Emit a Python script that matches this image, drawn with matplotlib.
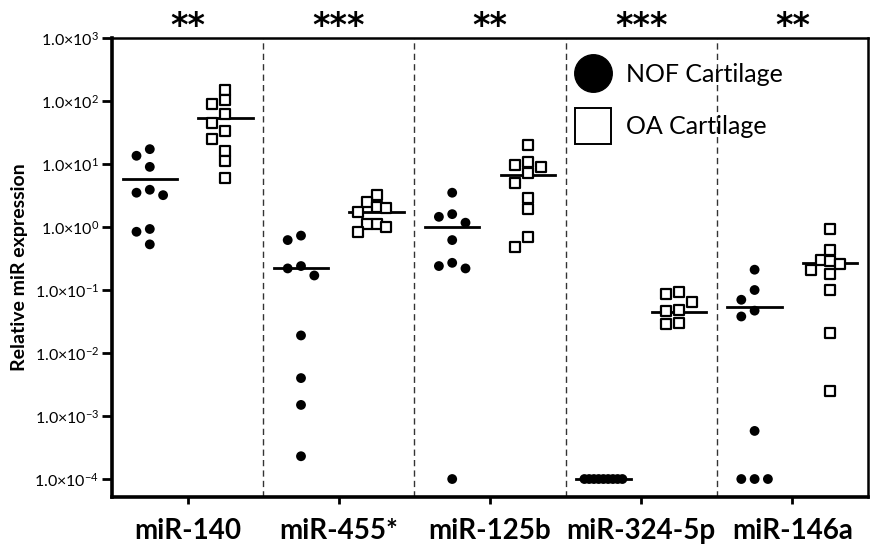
import matplotlib
matplotlib.use("Agg")
import matplotlib.pyplot as plt
from matplotlib.lines import Line2D
import numpy as np

plt.rcParams['font.family'] = ['Lato', 'DejaVu Sans']
plt.rcParams['mathtext.fontset'] = 'custom'
plt.rcParams['mathtext.rm'] = 'Lato'

# values
mirnas = ['miR-140', 'miR-455*', 'miR-125b', 'miR-324-5p', 'miR-146a']
stars = ['**', '***', '**', '***', '**']

nof_140 = [17.2, 13.5, 9.0, 3.9, 3.5, 3.2, 0.93, 0.84, 0.53]
nof_455 = [0.73, 0.62, 0.24, 0.22, 0.17, 0.019, 0.0040, 0.0015, 0.00023]
nof_125b = [3.5, 1.6, 1.45, 1.17, 0.62, 0.27, 0.24, 0.22, 0.0001]
nof_324 = [0.0001, 0.0001, 0.0001, 0.0001, 0.0001, 0.0001, 0.0001, 0.0001, 0.0001]
nof_146a = [0.21, 0.10, 0.070, 0.047, 0.038, 0.00058, 0.0001, 0.0001, 0.0001]

oa_140 = [152, 105, 91, 63, 45, 34, 25, 16, 11, 6.1]
oa_455 = [3.2, 2.5, 2.1, 2.0, 1.75, 1.12, 1.1, 1.0, 0.82]
oa_125b = [20, 10.8, 9.6, 9.0, 7.1, 5.0, 2.9, 1.9, 0.69, 0.49]
oa_324 = [0.092, 0.086, 0.065, 0.048, 0.047, 0.030, 0.029]
oa_146a = [0.92, 0.43, 0.30, 0.29, 0.26, 0.21, 0.18, 0.10, 0.021, 0.0025]

# mean lines as drawn
nof_mean = [5.8, 0.22, 1.0, 0.0001, 0.053]
oa_mean = [54, 1.75, 6.7, 0.045, 0.27]

nof = [nof_140, nof_455, nof_125b, nof_324, nof_146a]
oa = [oa_140, oa_455, oa_125b, oa_324, oa_146a]

fig = plt.figure(figsize=(8.75, 5.48), dpi=100)
ax = fig.add_axes([0.128, 0.0931, 0.864, 0.8376])
ax.set_yscale('log')
ax.set_xlim(-0.5, 4.5)
ax.set_ylim(10 ** -4.285, 1e3)


def swarm(values, center, step_px=13.3, min_px=10.0, max_px=19.0):
    # simple beeswarm: place points one by one, shifting sideways on collision
    pts = np.column_stack([np.full(len(values), center), values])
    ys = ax.transData.transform(pts)[:, 1]
    placed = []
    offs = []
    for y in ys:
        k = 0
        found = None
        while found is None:
            for c in ([0] if k == 0 else [-k, k]):
                x = c * step_px
                if all((x - px) ** 2 + (y - py) ** 2 >= min_px ** 2 for px, py in placed):
                    found = x
                    break
            k += 1
        placed.append((found, y))
        offs.append(found)
    offs = np.array(offs, dtype=float)
    m = np.abs(offs).max()
    if m > max_px:
        offs *= max_px / m
    ppu = ax.transData.transform([(1, 1)])[0, 0] - ax.transData.transform([(0, 1)])[0, 0]
    return center + offs / ppu


for i in range(len(mirnas)):
    xn = i - 0.25
    xo = i + 0.25
    ax.plot([xn - 0.18, xn + 0.18], [nof_mean[i]] * 2, color='black', lw=2.0, zorder=2)
    ax.plot([xo - 0.18, xo + 0.18], [oa_mean[i]] * 2, color='black', lw=2.0, zorder=2)
    ax.scatter(swarm(nof[i], xn), nof[i], s=50, marker='o', color='black',
               edgecolors='none', zorder=3)
    ax.scatter(swarm(oa[i], xo), oa[i], s=44, marker='s', facecolors='white',
               edgecolors='black', linewidths=1.6, zorder=3)
    ax.text(i, 1.026, stars[i], transform=ax.get_xaxis_transform(), ha='center',
            va='center', fontsize=24, fontweight='bold', family='DejaVu Sans')

for b in [0.5, 1.5, 2.5, 3.5]:
    ax.axvline(b, color='#333333', lw=1.0, ls=(0, (4.5, 3)), zorder=1)

yt = [10.0 ** k for k in range(-4, 4)]
ax.set_yticks(yt)
ax.set_yticklabels([r'$\mathregular{1.0{\times}10^{%d}}$' % k for k in range(-4, 4)])
ax.minorticks_off()
ax.tick_params(axis='y', which='major', labelsize=11.5, length=7, width=2, pad=2)
ax.set_xticks(range(len(mirnas)))
ax.set_xticklabels(mirnas, fontsize=20, fontweight='bold')
ax.tick_params(axis='x', length=5, width=2, pad=10)

for side in ['left', 'bottom']:
    ax.spines[side].set_linewidth(2.6)
for side in ['top', 'right']:
    ax.spines[side].set_linewidth(1.8)

ax.set_ylabel('Relative miR expression', fontsize=14, fontweight='bold', labelpad=5)

handles = [
    Line2D([], [], marker='o', ls='none', color='black', markersize=27),
    Line2D([], [], marker='s', ls='none', markerfacecolor='white',
           markeredgecolor='black', markeredgewidth=1.4, markersize=26),
]
ax.legend(handles, ['NOF Cartilage', 'OA Cartilage'], loc='upper left',
          bbox_to_anchor=(0.583, 0.978), frameon=False, fontsize=18,
          labelspacing=1.17, handletextpad=0.35, borderaxespad=0.2)

fig.savefig('out.png', dpi=100)
